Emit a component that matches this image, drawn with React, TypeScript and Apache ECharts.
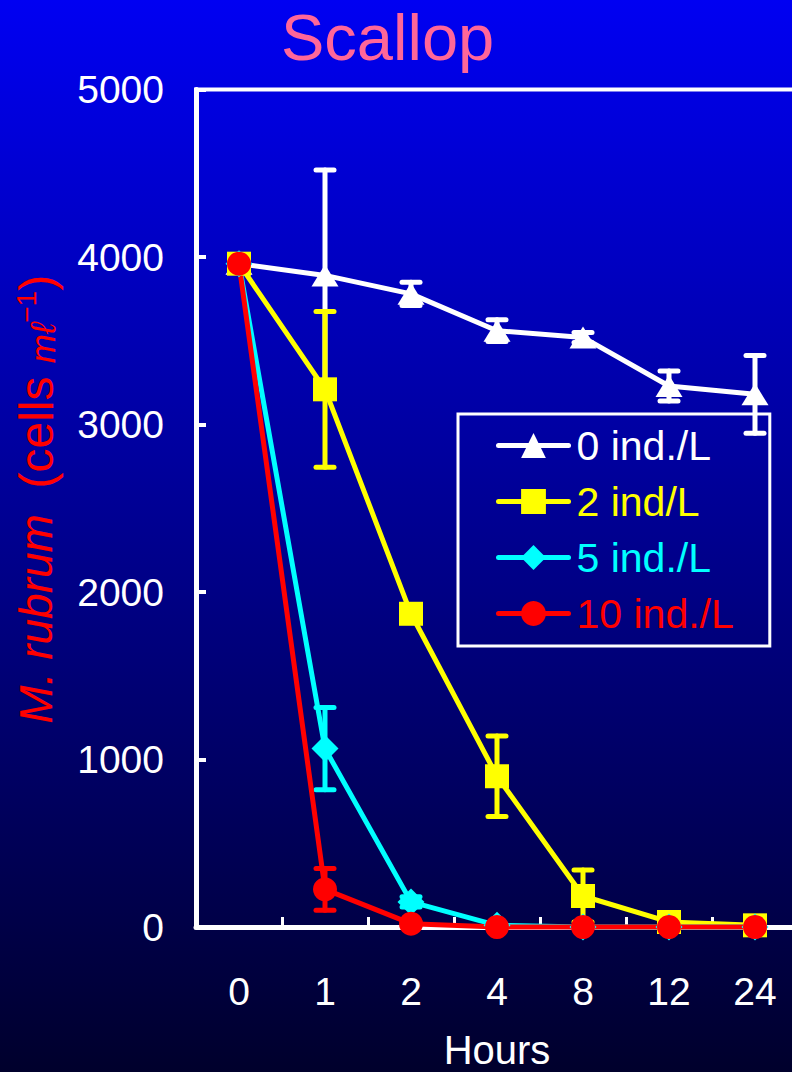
import React, { useEffect, useRef } from 'react';
import * as echarts from 'echarts';

const categories = ['0', '1', '2', '4', '8', '12', '24'];
const seriesNames = ['0 ind./L', '2 ind/L', '5 ind./L', '10 ind./L'];
const s0 = [3960, 3890, 3780, 3560, 3520, 3230, 3180];
const s0Err = [null, 630, 70, 65, 30, 90, 232];
const s2 = [3960, 3210, 1870, 900, 185, 30, 10];
const s2Err = [null, 465, 30, 240, 155, null, null];
const s5 = [3960, 1065, 150, 10, 0, 0, 0];
const s5Err = [null, 245, 30, null, null, null, null];
const s10 = [3960, 225, 20, 0, 0, 0, 0];
const s10Err = [null, 125, null, null, null, null, null];

const colors = ['#FFFFFF', '#FFFF00', '#00FFFF', '#FF0000'];
const symbols = ['triangle', 'rect', 'diamond', 'circle'];
const symbolSizes: any[] = [[27, 22], 24, 27, 24];
const FONT = "'Liberation Sans', Arial, Helvetica, sans-serif";

function errSeries(name: string, values: number[], errs: (number | null)[], color: string) {
  const data: number[][] = [];
  errs.forEach((e, i) => {
    if (e != null) data.push([i, values[i] - e, values[i] + e]);
  });
  return {
    type: 'custom',
    name,
    data,
    silent: true,
    encode: { x: 0, y: [1, 2] },
    renderItem: (params: any, api: any) => {
      const x = api.value(0);
      const lo = api.coord([x, api.value(1)]);
      const hi = api.coord([x, api.value(2)]);
      const hw = 9;
      const style = { stroke: color, fill: 'none', lineWidth: 5, lineCap: 'round' };
      return {
        type: 'group',
        children: [
          { type: 'line', shape: { x1: lo[0], y1: lo[1], x2: hi[0], y2: hi[1] }, style },
          { type: 'line', shape: { x1: hi[0] - hw, y1: hi[1], x2: hi[0] + hw, y2: hi[1] }, style },
          { type: 'line', shape: { x1: lo[0] - hw, y1: lo[1], x2: lo[0] + hw, y2: lo[1] }, style },
        ],
      };
    },
  };
}

function lineSeries(i: number, values: number[]) {
  return {
    type: 'line',
    name: seriesNames[i],
    data: values,
    clip: false,
    symbol: symbols[i],
    symbolSize: symbolSizes[i],
    color: colors[i],
    lineStyle: { color: colors[i], width: 5, cap: 'round', join: 'round' },
    itemStyle: { color: colors[i], borderWidth: 0 },
  };
}

export default function App() {
  const ref = useRef<HTMLDivElement>(null);
  useEffect(() => {
    const chart = echarts.init(ref.current!, null, { renderer: 'svg' });
    const allVals = [s0, s2, s5, s10];
    const allErrs = [s0Err, s2Err, s5Err, s10Err];
    const series: any[] = [];
    for (let i = 0; i < 4; i++) {
      series.push(errSeries('err' + i, allVals[i], allErrs[i], colors[i]));
      series.push(lineSeries(i, allVals[i]));
    }
    chart.setOption({
      animation: false,
      graphic: [
        {
          type: 'rect',
          z: -10,
          silent: true,
          shape: { x: 0, y: 0, width: 792, height: 1072 },
          style: {
            fill: new echarts.graphic.LinearGradient(0, 0, 0, 1, [
              { offset: 0, color: '#0000F2' },
              { offset: 1, color: '#00002C' },
            ]),
          },
        },
      ],
      title: {
        text: 'Scallop',
        left: 281,
        top: 4,
        padding: 0,
        textStyle: { color: '#FF6699', fontSize: 65, lineHeight: 66, fontWeight: 'normal', fontFamily: FONT },
      },
      grid: {
        left: 196,
        top: 89.5,
        width: 602,
        height: 837.5,
        show: true,
        borderColor: '#FFFFFF',
        borderWidth: 4,
        backgroundColor: 'transparent',
        containLabel: false,
        outerBoundsMode: 'none',
      },
      legend: {
        orient: 'vertical',
        left: 458,
        top: 414,
        padding: [11, 36, 12, 38],
        itemWidth: 70,
        itemHeight: 31,
        itemGap: 15,
        borderColor: '#FFFFFF',
        borderWidth: 3,
        selectedMode: false,
        lineStyle: { width: 5 },
        textStyle: { fontSize: 41, fontFamily: FONT, padding: [0, 0, 0, 3] },
        data: seriesNames.map((n, i) => ({ name: n, textStyle: { color: colors[i] } })),
      },
      xAxis: {
        type: 'category',
        data: categories,
        boundaryGap: true,
        axisLine: { lineStyle: { color: '#FFFFFF', width: 5 } },
        axisTick: { show: true, inside: true, length: 10, alignWithLabel: false, lineStyle: { color: '#FFFFFF', width: 3 } },
        axisLabel: { color: '#FFFFFF', fontSize: 39, margin: 45, fontFamily: FONT },
        splitLine: { show: false },
        name: 'Hours',
        nameLocation: 'middle',
        nameGap: 103,
        nameTextStyle: { color: '#FFFFFF', fontSize: 40, fontFamily: FONT },
      },
      yAxis: {
        type: 'value',
        min: 0,
        max: 5000,
        interval: 1000,
        axisLine: { show: true, lineStyle: { color: '#FFFFFF', width: 5 } },
        axisTick: { show: true, inside: true, length: 10, lineStyle: { color: '#FFFFFF', width: 4 } },
        splitLine: { show: false },
        axisLabel: {
          color: '#FFFFFF',
          fontSize: 39,
          margin: 32,
          fontFamily: FONT,
          formatter: (v: number) => String(v),
        },
        name: '{i|M. rubrum}  {n|(cells }{u|mℓ}{s|−1}{n|)}',
        nameLocation: 'middle',
        nameRotate: 90,
        nameGap: 136,
        nameMoveOverlap: false,
        nameTextStyle: {
          color: '#FF0000',
          fontSize: 46,
          fontFamily: FONT,
          padding: [0, 0, 0, 18],
          rich: {
            i: { fontStyle: 'italic', fontSize: 46, color: '#FF0000', fontFamily: FONT },
            n: { fontSize: 48, color: '#FF0000', fontFamily: FONT },
            u: { fontSize: 35, color: '#FF0000', fontFamily: FONT, fontStyle: 'italic', verticalAlign: 'bottom' },
            s: { fontSize: 28, color: '#FF0000', fontFamily: FONT, verticalAlign: 'top' },
          },
        },
      },
      series,
    });
    return () => chart.dispose();
  }, []);
  return <div ref={ref} style={{ position: 'absolute', left: 0, top: 0, width: 792, height: 1072 }} />;
}
